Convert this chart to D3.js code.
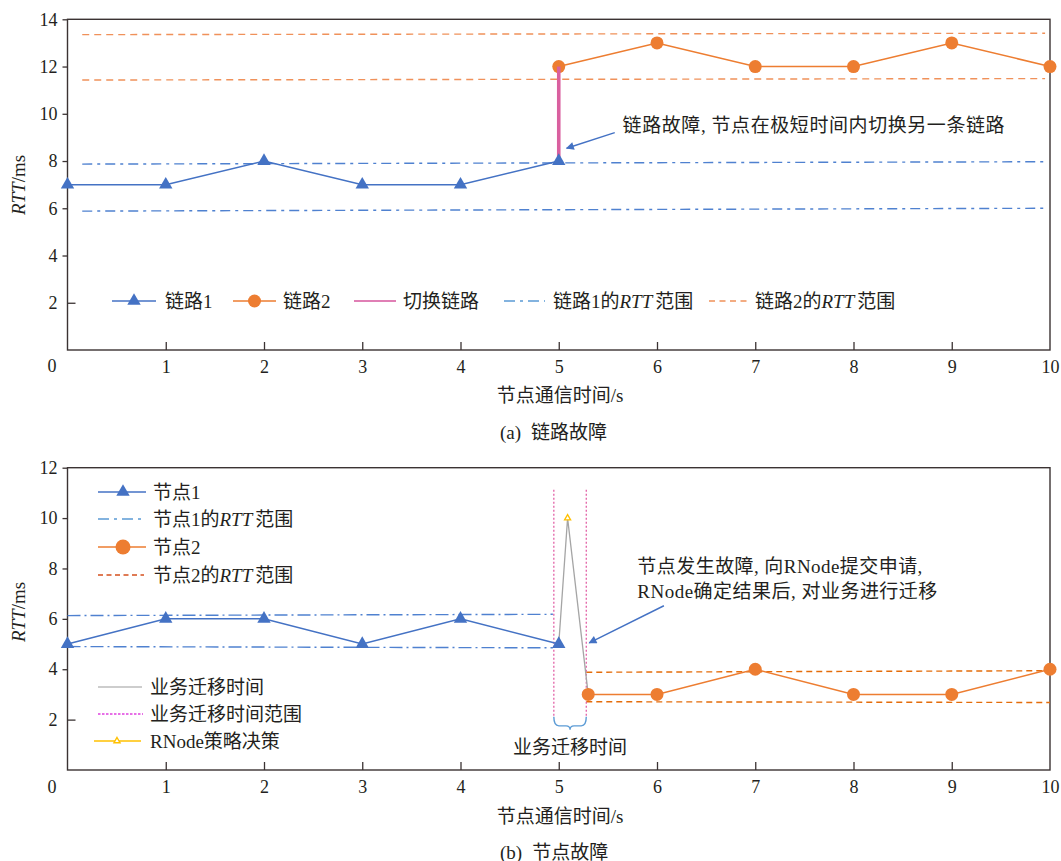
<!DOCTYPE html>
<html>
<head>
<meta charset="utf-8">
<script src="https://cdn.jsdelivr.net/npm/d3@7"></script>
<style>
  body { margin: 0; background: #fff; }
  text { font-family: "Liberation Serif", "Noto Sans CJK SC", serif; fill: #231f20; }
</style>
</head>
<body>
<svg id="chart" width="1061" height="861"></svg>
<script>
// ---------- shared axes ----------
const timeTicks = [1, 2, 3, 4, 5, 6, 7, 8, 9, 10];
const rttTicksA = [2, 4, 6, 8, 10, 12, 14];
const rttTicksB = [2, 4, 6, 8, 10, 12];

// ---------- (a) link failure ----------
const link1Time = [0, 1, 2, 3, 4, 5];
const link1RTT  = [7, 7, 8, 7, 7, 8];
const link2Time = [5, 6, 7, 8, 9, 10];
const link2RTT  = [12, 13, 12, 12, 13, 12];
const switchTime = [5, 5];
const switchRTT  = [8, 12];
const rangeTimeA = [0.15, 9.95];
const link1Low  = [5.88, 6.0];
const link1High = [7.87, 7.97];
const link2Low  = [11.43, 11.49];
const link2High = [13.35, 13.41];

// ---------- (b) node failure ----------
const node1Time = [0, 1, 2, 3, 4, 5];
const node1RTT  = [5, 6, 6, 5, 6, 5];
const node2Time = [5.3, 6, 7, 8, 9, 10];
const node2RTT  = [3, 3, 4, 3, 3, 4];
const migrateTime = [5, 5.09, 5.3];
const migrateRTT  = [5, 10, 3];
const decisionTime = [5.09];
const decisionRTT  = [10];
const windowTime = [4.95, 5.28];
const windowRTT  = [2.15, 11.2];
const node1RangeTime = [0, 4.94];
const node1Low  = [4.9, 4.85];
const node1High = [6.13, 6.18];
const node2RangeTime = [5.28, 10];
const node2Low  = [2.71, 2.68];
const node2High = [3.88, 3.94];

// ---------- palette ----------
const C = {
  axis: "#3b3333",
  blue: "#4472c4",
  blueRange: "#4f81d0",
  blueLegend: "#5b9bd5",
  orange: "#ed7d31",
  orangeRangeA: "#f0915a",
  orangeRangeB: "#e46c0a",
  pink: "#d9609f",
  pinkLegend: "#e07fb5",
  window: "#e0559f",
  windowLegend: "#e040e0",
  gray: "#a5a5a5",
  yellow: "#ffc000",
  brace: "#5b9bd5"
};

const svg = d3.select("#chart");
const x = d3.scaleLinear().domain([0, 10]).range([67.5, 1050]);
const yA = d3.scaleLinear().domain([0, 14]).range([350, 19.3]);
const yB = d3.scaleLinear().domain([0, 12]).range([770, 467.7]);

const defs = svg.append("defs");
defs.append("marker")
  .attr("id", "arrowHead").attr("viewBox", "0 0 10 10")
  .attr("refX", 9).attr("refY", 5)
  .attr("markerWidth", 11).attr("markerHeight", 8)
  .attr("markerUnits", "userSpaceOnUse")
  .attr("orient", "auto")
  .append("path").attr("d", "M0,0 L10,5 L0,10 Z").attr("fill", C.blue);

const triSym = d3.symbol().type(d3.symbolTriangle).size(78);
const smallTri = d3.symbol().type(d3.symbolTriangle).size(16);

function lineOf(y, xs, ys) {
  return d3.line().x(d => x(d[0])).y(d => y(d[1]))(d3.zip(xs, ys));
}

function frame(g, y, yTicks, ymax, zeroLabelY) {
  // plot box
  g.append("rect")
    .attr("x", x(0)).attr("y", y(ymax))
    .attr("width", x(10) - x(0)).attr("height", y(0) - y(ymax))
    .attr("fill", "none").attr("stroke", C.axis).attr("stroke-width", 1.4);

  // x axis: ticks point into the plot
  const xa = g.append("g").attr("transform", `translate(0,${y(0)})`)
    .call(d3.axisBottom(x).tickValues(timeTicks).tickSize(-8).tickPadding(10).tickFormat(d3.format("d")));
  xa.select(".domain").remove();
  xa.selectAll("line").attr("stroke", C.axis).attr("stroke-width", 1.3)
    .attr("display", d => d === 10 ? "none" : null);
  xa.selectAll("text").attr("font-size", 18).attr("fill", "#231f20")
    .style("font-family", "'Liberation Serif', serif");

  // y axis
  const ya = g.append("g").attr("transform", `translate(${x(0)},0)`)
    .call(d3.axisLeft(y).tickValues(yTicks).tickSize(5).tickPadding(5).tickFormat(d3.format("d")));
  ya.select(".domain").remove();
  ya.selectAll("line").attr("stroke", C.axis).attr("stroke-width", 1.3)
    .attr("x2", d => d === 2 ? 8 : -5);
  ya.selectAll("text").attr("font-size", 18).attr("fill", "#231f20")
    .style("font-family", "'Liberation Serif', serif");

  // shared origin label
  g.append("text").attr("x", 52).attr("y", zeroLabelY)
    .attr("text-anchor", "middle").attr("dominant-baseline", "central")
    .attr("font-size", 18).text("0");
}

function rttTitle(g, cy) {
  const t = g.append("text")
    .attr("transform", `translate(18,${cy}) rotate(-90)`)
    .attr("text-anchor", "middle").attr("dominant-baseline", "central")
    .attr("font-size", 19);
  t.append("tspan").attr("font-style", "italic").text("RTT");
  t.append("tspan").text("/ms");
}

function xTitle(g, cy, caption, capY, letter) {
  g.append("text").attr("x", 560).attr("y", cy)
    .attr("text-anchor", "middle").attr("dominant-baseline", "central")
    .attr("font-size", 19).text("节点通信时间/s");
  const t = g.append("text").attr("x", 500).attr("y", capY)
    .attr("dominant-baseline", "central").attr("font-size", 19);
  t.append("tspan").text(`(${letter})`);
  t.append("tspan").attr("dx", 10).text(caption);
}

function rangeLabel(t, prefix) {
  t.append("tspan").text(prefix);
  t.append("tspan").attr("font-style", "italic").text("RTT");
  t.append("tspan").attr("dx", 3).text("范围");
}

// ================= (a) 链路故障 =================
const gA = svg.append("g");
frame(gA, yA, rttTicksA, 14, 366);
rttTitle(gA, 185);
xTitle(gA, 395, "链路故障", 432, "a");

// RTT range lines
[[link1Low, C.blueRange, "10,5,3,5"], [link1High, C.blueRange, "10,5,3,5"],
 [link2Low, C.orangeRangeA, "7,5"], [link2High, C.orangeRangeA, "7,5"]].forEach(([vals, col, dash]) => {
  gA.append("path").attr("d", lineOf(yA, rangeTimeA, vals))
    .attr("fill", "none").attr("stroke", col).attr("stroke-width", 1.4)
    .attr("stroke-dasharray", dash);
});

// link 1
gA.append("path").attr("d", lineOf(yA, link1Time, link1RTT))
  .attr("fill", "none").attr("stroke", C.blue).attr("stroke-width", 1.5);
// link 2
gA.append("path").attr("d", lineOf(yA, link2Time, link2RTT))
  .attr("fill", "none").attr("stroke", C.orange).attr("stroke-width", 1.5);
gA.selectAll(".l2").data(d3.zip(link2Time, link2RTT)).join("circle")
  .attr("cx", d => x(d[0])).attr("cy", d => yA(d[1])).attr("r", 6.5).attr("fill", C.orange);
// switching link
gA.append("path").attr("d", lineOf(yA, switchTime, switchRTT))
  .attr("fill", "none").attr("stroke", C.pink).attr("stroke-width", 3.6);
gA.selectAll(".l1").data(d3.zip(link1Time, link1RTT)).join("path")
  .attr("transform", d => `translate(${x(d[0])},${yA(d[1])})`)
  .attr("d", triSym).attr("fill", C.blue);

// annotation
gA.append("line")
  .attr("x1", x(5.57)).attr("y1", yA(9.2)).attr("x2", x(5.08)).attr("y2", yA(8.54))
  .attr("stroke", C.blue).attr("stroke-width", 1.4).attr("marker-end", "url(#arrowHead)");
gA.append("text").attr("x", x(5.65)).attr("y", yA(9.5))
  .attr("dominant-baseline", "central").attr("font-size", 19)
  .attr("textLength", 382).attr("lengthAdjust", "spacing")
  .text("链路故障, 节点在极短时间内切换另一条链路");

// legend (a)
const legA = gA.append("g").attr("transform", "translate(0,301)");
legA.append("line").attr("x1", 112).attr("x2", 156).attr("stroke", C.blue).attr("stroke-width", 1.5);
legA.append("path").attr("transform", "translate(134,0)").attr("d", triSym).attr("fill", C.blue);
legA.append("text").attr("x", 165).attr("dominant-baseline", "central").attr("font-size", 19).text("链路1");

legA.append("line").attr("x1", 233).attr("x2", 276).attr("stroke", C.orange).attr("stroke-width", 1.5);
legA.append("circle").attr("cx", 254.5).attr("r", 6.5).attr("fill", C.orange);
legA.append("text").attr("x", 283).attr("dominant-baseline", "central").attr("font-size", 19).text("链路2");

legA.append("line").attr("x1", 354).attr("x2", 396).attr("stroke", C.pinkLegend).attr("stroke-width", 2);
legA.append("text").attr("x", 403).attr("dominant-baseline", "central").attr("font-size", 19).text("切换链路");

legA.append("line").attr("x1", 504).attr("x2", 545).attr("stroke", C.blueLegend).attr("stroke-width", 1.6)
  .attr("stroke-dasharray", "11,5,3,5");
rangeLabel(legA.append("text").attr("x", 553).attr("dominant-baseline", "central").attr("font-size", 19), "链路1的");

legA.append("line").attr("x1", 709).attr("x2", 748).attr("stroke", C.orangeRangeA).attr("stroke-width", 1.6)
  .attr("stroke-dasharray", "6,4.5");
rangeLabel(legA.append("text").attr("x", 755).attr("dominant-baseline", "central").attr("font-size", 19), "链路2的");

// ================= (b) 节点故障 =================
const gB = svg.append("g");
frame(gB, yB, rttTicksB, 12, 787);
rttTitle(gB, 612);
xTitle(gB, 816, "节点故障", 852, "b");

// RTT ranges
[[node1RangeTime, node1Low, C.blueRange, "13,4,2,4"], [node1RangeTime, node1High, C.blueRange, "13,4,2,4"],
 [node2RangeTime, node2Low, C.orangeRangeB, "6,4"], [node2RangeTime, node2High, C.orangeRangeB, "6,4"]].forEach(([xs, vals, col, dash]) => {
  gB.append("path").attr("d", lineOf(yB, xs, vals))
    .attr("fill", "none").attr("stroke", col).attr("stroke-width", 1.4)
    .attr("stroke-dasharray", dash);
});

// migration window
windowTime.forEach(t => {
  gB.append("path").attr("d", lineOf(yB, [t, t], windowRTT))
    .attr("fill", "none").attr("stroke", C.window).attr("stroke-width", 1.2)
    .attr("stroke-dasharray", "2,2");
});
// brace under the window
const bx1 = x(windowTime[0]), bx2 = x(windowTime[1]), bcx = (bx1 + bx2) / 2, by = yB(windowRTT[0]) + 1;
gB.append("path")
  .attr("d", `M${bx1},${by} Q${bx1},${by + 9} ${bx1 + 5},${by + 9} L${bcx - 4},${by + 9} Q${bcx},${by + 9} ${bcx},${by + 13}`
    + ` Q${bcx},${by + 9} ${bcx + 4},${by + 9} L${bx2 - 5},${by + 9} Q${bx2},${by + 9} ${bx2},${by}`)
  .attr("fill", "none").attr("stroke", C.brace).attr("stroke-width", 1.4);
gB.append("text").attr("x", bcx).attr("y", 747)
  .attr("text-anchor", "middle").attr("dominant-baseline", "central").attr("font-size", 19)
  .text("业务迁移时间");

// node 1
gB.append("path").attr("d", lineOf(yB, node1Time, node1RTT))
  .attr("fill", "none").attr("stroke", C.blue).attr("stroke-width", 1.5);
// migration time
gB.append("path").attr("d", lineOf(yB, migrateTime, migrateRTT))
  .attr("fill", "none").attr("stroke", C.gray).attr("stroke-width", 1.3);
// node 2
gB.append("path").attr("d", lineOf(yB, node2Time, node2RTT))
  .attr("fill", "none").attr("stroke", C.orange).attr("stroke-width", 1.5);
gB.selectAll(".n2").data(d3.zip(node2Time, node2RTT)).join("circle")
  .attr("cx", d => x(d[0])).attr("cy", d => yB(d[1])).attr("r", 6.5).attr("fill", C.orange);
gB.selectAll(".n1").data(d3.zip(node1Time, node1RTT)).join("path")
  .attr("transform", d => `translate(${x(d[0])},${yB(d[1])})`)
  .attr("d", triSym).attr("fill", C.blue);
// RNode decision
gB.selectAll(".dec").data(d3.zip(decisionTime, decisionRTT)).join("path")
  .attr("transform", d => `translate(${x(d[0])},${yB(d[1])})`)
  .attr("d", smallTri).attr("fill", "#fff").attr("stroke", C.yellow).attr("stroke-width", 1.3);

// annotation
gB.append("line")
  .attr("x1", x(6.07)).attr("y1", yB(6.52)).attr("x2", x(5.31)).attr("y2", yB(5.05))
  .attr("stroke", C.blue).attr("stroke-width", 1.4).attr("marker-end", "url(#arrowHead)");
gB.append("text").attr("x", x(5.8)).attr("y", yB(8.07))
  .attr("dominant-baseline", "central").attr("font-size", 19)
  .attr("textLength", 285).attr("lengthAdjust", "spacing")
  .text("节点发生故障, 向RNode提交申请,");
gB.append("text").attr("x", x(5.8)).attr("y", yB(7.08))
  .attr("dominant-baseline", "central").attr("font-size", 19)
  .attr("textLength", 300).attr("lengthAdjust", "spacing")
  .text("RNode确定结果后, 对业务进行迁移");

// legend (b)
const legB = gB.append("g");
function legRow(yPos) { return legB.append("g").attr("transform", `translate(0,${yPos})`); }

let r = legRow(492);
r.append("line").attr("x1", 98).attr("x2", 146).attr("stroke", C.blue).attr("stroke-width", 1.5);
r.append("path").attr("transform", "translate(123,0)").attr("d", triSym).attr("fill", C.blue);
r.append("text").attr("x", 153).attr("dominant-baseline", "central").attr("font-size", 19).text("节点1");

r = legRow(519);
r.append("line").attr("x1", 98).attr("x2", 142).attr("stroke", C.blueLegend).attr("stroke-width", 1.6)
  .attr("stroke-dasharray", "11,5,3,5");
rangeLabel(r.append("text").attr("x", 153).attr("dominant-baseline", "central").attr("font-size", 19), "节点1的");

r = legRow(547);
r.append("line").attr("x1", 98).attr("x2", 146).attr("stroke", C.orange).attr("stroke-width", 1.5);
r.append("circle").attr("cx", 123).attr("r", 7.5).attr("fill", C.orange);
r.append("text").attr("x", 153).attr("dominant-baseline", "central").attr("font-size", 19).text("节点2");

r = legRow(575);
r.append("line").attr("x1", 98).attr("x2", 144).attr("stroke", "#d5501e").attr("stroke-width", 1.6)
  .attr("stroke-dasharray", "5,3.5");
rangeLabel(r.append("text").attr("x", 153).attr("dominant-baseline", "central").attr("font-size", 19), "节点2的");

r = legRow(687);
r.append("line").attr("x1", 98).attr("x2", 142).attr("stroke", "#bdbdbd").attr("stroke-width", 1.6);
r.append("text").attr("x", 150).attr("dominant-baseline", "central").attr("font-size", 19).text("业务迁移时间");

r = legRow(714);
r.append("line").attr("x1", 98).attr("x2", 143).attr("stroke", C.windowLegend).attr("stroke-width", 1.3)
  .attr("stroke-dasharray", "2.5,1.5");
r.append("text").attr("x", 150).attr("dominant-baseline", "central").attr("font-size", 19).text("业务迁移时间范围");

r = legRow(741);
r.append("line").attr("x1", 94).attr("x2", 141).attr("stroke", C.yellow).attr("stroke-width", 1.6);
r.append("path").attr("transform", "translate(117,0)").attr("d", smallTri)
  .attr("fill", "#fff").attr("stroke", C.yellow).attr("stroke-width", 1.4);
r.append("text").attr("x", 150).attr("dominant-baseline", "central").attr("font-size", 19).text("RNode策略决策");
</script>
</body>
</html>
